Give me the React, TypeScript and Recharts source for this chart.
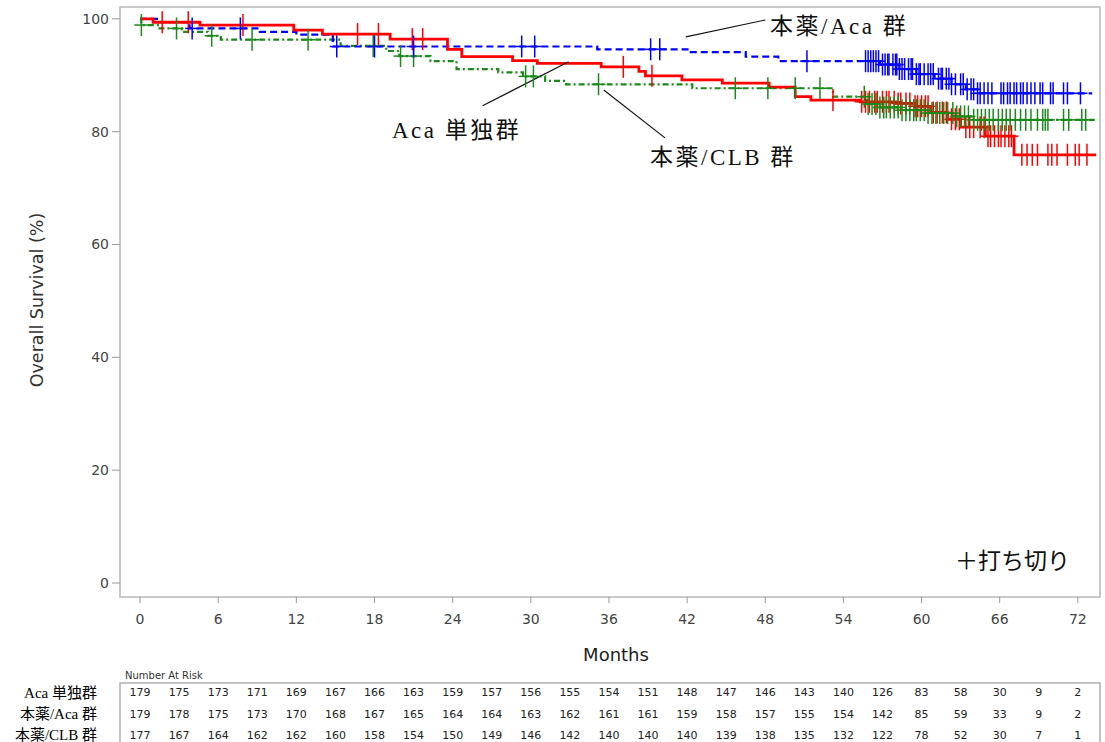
import React from 'react';
import {
  ComposedChart,
  Line,
  Scatter,
  XAxis,
  YAxis,
  ReferenceArea,
  ReferenceLine,
} from 'recharts';

// ---- axes ----
const monthTicks = [0, 6, 12, 18, 24, 30, 36, 42, 48, 54, 60, 66, 72];
const survivalTicks = [0, 20, 40, 60, 80, 100];
const xDomain: [number, number] = [-1.54, 73.7];
const yDomain: [number, number] = [-2.48, 102.1];

// ---- Aca 単独群 (red, solid) ----
const acaTimes = [0, 1.0, 4.6, 11.8, 14.0, 19.2, 23.6, 24.7, 28.6, 30.5, 35.4, 38.3, 38.8, 41.6, 44.7, 48.3, 50.3, 51.5, 55.3, 58.0, 59.5, 60.7, 62.0, 63.0, 64.9, 67.1, 73.4];
const acaSurv = [100, 99.4, 98.9, 98.0, 97.3, 96.4, 94.6, 93.3, 92.6, 92.1, 91.5, 90.7, 89.9, 89.2, 88.6, 87.9, 86.2, 85.6, 85.3, 85.0, 84.5, 83.4, 82.2, 80.8, 79.2, 75.9, 75.9];
const acaCensor = [1.7, 3.7, 7.9, 16.7, 18.3, 20.9, 21.7, 37.1, 39.3, 53.2, 55.4, 55.7, 56.0, 56.4, 56.6, 57.0, 57.3, 57.5, 57.9, 58.2, 58.4, 58.8, 59.1, 59.5, 59.7, 60.0, 60.3, 60.5, 60.9, 61.2, 61.6, 61.9, 62.3, 62.6, 62.9, 63.4, 63.7, 64.0, 64.5, 64.8, 65.1, 65.3, 65.6, 65.9, 66.1, 66.4, 66.7, 66.9, 67.7, 68.1, 68.5, 68.9, 69.7, 70.0, 70.4, 71.2, 71.8, 72.1, 72.7];

// ---- 本薬/Aca 群 (blue, dashed) ----
const comboAcaTimes = [0, 1.5, 3.8, 9.2, 12.0, 14.8, 35.1, 42.2, 46.5, 49.0, 56.8, 58.3, 59.6, 61.0, 62.3, 63.4, 64.3, 73.1];
const comboAcaSurv = [100, 99.4, 98.3, 97.7, 97.2, 95.1, 94.6, 94.1, 93.3, 92.5, 91.9, 91.1, 90.2, 89.4, 88.4, 87.5, 86.8, 86.8];
const comboAcaCensor = [4.0, 7.7, 15.1, 18.0, 21.0, 29.3, 30.3, 39.2, 39.9, 51.2, 55.7, 55.9, 56.1, 56.3, 56.5, 56.7, 57.0, 57.2, 57.4, 57.5, 57.8, 58.0, 58.1, 58.3, 58.5, 58.7, 59.0, 59.2, 59.3, 59.6, 59.8, 59.9, 60.2, 60.5, 60.7, 60.9, 61.3, 61.5, 61.6, 61.9, 62.1, 62.3, 62.6, 63.0, 63.2, 63.5, 63.8, 64.0, 64.3, 64.5, 64.8, 65.1, 65.4, 66.1, 66.3, 66.6, 66.8, 67.1, 67.3, 67.6, 67.8, 68.1, 68.4, 68.7, 69.1, 69.3, 69.9, 70.1, 70.9, 71.2, 72.2];

// ---- 本薬/CLB 群 (green, dash-dot) ----
const comboClbTimes = [0, 0.1, 1.5, 3.2, 5.2, 6.2, 15.4, 18.9, 19.9, 22.3, 24.3, 27.5, 29.4, 31.1, 32.7, 42.4, 53.2, 55.8, 56.8, 58.5, 60.5, 62.5, 64.0, 73.3];
const comboClbSurv = [100, 98.9, 98.3, 97.7, 97.0, 96.3, 95.2, 94.3, 93.4, 92.5, 91.1, 90.5, 89.8, 89.0, 88.4, 87.7, 86.2, 84.9, 84.3, 83.8, 83.3, 82.7, 82.1, 82.1];
const comboClbCensor = [0.1, 2.8, 5.5, 8.6, 12.9, 17.9, 20.0, 21.0, 29.6, 30.2, 35.2, 45.7, 48.2, 50.3, 52.2, 55.6, 55.9, 56.2, 56.5, 56.8, 57.1, 57.3, 57.6, 57.9, 58.2, 58.5, 58.8, 59.1, 59.4, 59.6, 59.9, 60.2, 60.5, 60.8, 61.1, 61.4, 61.7, 62.0, 62.4, 62.7, 63.0, 63.3, 63.6, 64.0, 64.3, 64.6, 64.9, 65.2, 65.5, 65.9, 66.2, 66.5, 66.8, 67.2, 67.6, 68.0, 68.4, 68.9, 69.3, 69.5, 69.7, 70.9, 71.3, 72.3, 72.6];

// ---- number at risk ----
const riskTimes = [0, 3, 6, 9, 12, 15, 18, 21, 24, 27, 30, 33, 36, 39, 42, 45, 48, 51, 54, 57, 60, 63, 66, 69, 72];
const acaRisk = [179, 175, 173, 171, 169, 167, 166, 163, 159, 157, 156, 155, 154, 151, 148, 147, 146, 143, 140, 126, 83, 58, 30, 9, 2];
const comboAcaRisk = [179, 178, 175, 173, 170, 168, 167, 165, 164, 164, 163, 162, 161, 161, 159, 158, 157, 155, 154, 142, 85, 59, 33, 9, 2];
const comboClbRisk = [177, 167, 164, 162, 162, 160, 158, 154, 150, 149, 146, 142, 140, 140, 140, 139, 138, 135, 132, 122, 78, 52, 30, 7, 1];
const groupNames = ['Aca 単独群', '本薬/Aca 群', '本薬/CLB 群'];

const RED = '#ff0000';
const BLUE = '#0000ff';
const GREEN = '#1a8a1a';
const SANS = '"DejaVu Sans", Verdana, sans-serif';
const SERIF = '"Liberation Serif", "Times New Roman", "Noto Sans CJK JP", serif';

const toSteps = (times: number[], surv: number[]) => times.map((t, i) => ({ t, s: surv[i] }));

const survAt = (times: number[], surv: number[], t: number) => {
  let v = surv[0];
  for (let i = 0; i < times.length; i++) if (times[i] <= t) v = surv[i];
  return v;
};

const toCensor = (cens: number[], times: number[], surv: number[]) =>
  cens.map((t) => ({ t, s: survAt(times, surv, t) }));

const plusShape = (color: string) => (props: any) => {
  const { cx, cy } = props;
  if (cx == null || cy == null) return <g />;
  return (
    <g>
      <line x1={cx} x2={cx} y1={cy - 11} y2={cy + 11} stroke={color} strokeWidth={1.5} />
      <line x1={cx - 7} x2={cx + 7} y1={cy} y2={cy} stroke={color} strokeWidth={1.5} />
    </g>
  );
};

const riskRows = [acaRisk, comboAcaRisk, comboClbRisk].map((row, r) =>
  riskTimes.map((t, i) => ({ t, row: r, n: row[i] }))
);

const riskText = (props: any) => {
  const { cx, cy, payload } = props;
  return (
    <text x={cx} y={cy} textAnchor="middle" dominantBaseline="central" fontSize={11} fontFamily={SANS} fill="#222">
      {payload.n}
    </text>
  );
};

const abs = (left: number, top: number, extra: React.CSSProperties = {}): React.CSSProperties => ({
  position: 'absolute',
  left,
  top,
  whiteSpace: 'nowrap',
  lineHeight: 1,
  ...extra,
});

const note = (extra: React.CSSProperties = {}): React.CSSProperties => ({
  fontFamily: SERIF,
  fontSize: 23,
  color: '#111',
  letterSpacing: 2.5,
  ...extra,
});

export default function App() {
  const tickLine = { stroke: '#9a9a9a' };
  return (
    <div style={{ position: 'absolute', left: 0, top: 0, width: 1105, height: 742, overflow: 'hidden', background: '#fff' }}>
      <div style={{ position: 'absolute', left: 0, top: 0 }}>
        <ComposedChart width={1105} height={742} margin={{ top: 7, right: 5, bottom: 115, left: 0 }}>
          <XAxis
            type="number"
            dataKey="t"
            domain={xDomain}
            ticks={monthTicks}
            allowDataOverflow
            height={30}
            tickSize={6}
            tickMargin={11}
            axisLine={false}
            tickLine={tickLine}
            tick={{ fill: '#444', fontSize: 14, fontFamily: SANS }}
          />
          <YAxis
            type="number"
            domain={yDomain}
            ticks={survivalTicks}
            allowDataOverflow
            width={120}
            tickSize={8}
            tickMargin={3}
            axisLine={false}
            tickLine={tickLine}
            tick={{ fill: '#444', fontSize: 14, fontFamily: SANS }}
          />
          <ReferenceArea x1={xDomain[0]} x2={xDomain[1]} y1={yDomain[0]} y2={yDomain[1]} fill="none" stroke="#b8b8b8" strokeWidth={1.5} />
          <Line data={toSteps(comboClbTimes, comboClbSurv)} dataKey="s" type="stepAfter" stroke={GREEN} strokeWidth={2.2} strokeDasharray="6 3 2 3" dot={false} activeDot={false} isAnimationActive={false} />
          <Line data={toSteps(comboAcaTimes, comboAcaSurv)} dataKey="s" type="stepAfter" stroke={BLUE} strokeWidth={2.2} strokeDasharray="7 4" dot={false} activeDot={false} isAnimationActive={false} />
          <Line data={toSteps(acaTimes, acaSurv)} dataKey="s" type="stepAfter" stroke={RED} strokeWidth={2.8} dot={false} activeDot={false} isAnimationActive={false} />
          <Scatter data={toCensor(acaCensor, acaTimes, acaSurv)} dataKey="s" shape={plusShape(RED)} isAnimationActive={false} />
          <Scatter data={toCensor(comboClbCensor, comboClbTimes, comboClbSurv)} dataKey="s" shape={plusShape(GREEN)} isAnimationActive={false} />
          <Scatter data={toCensor(comboAcaCensor, comboAcaTimes, comboAcaSurv)} dataKey="s" shape={plusShape(BLUE)} isAnimationActive={false} />
          <ReferenceLine segment={[{ x: 41.9, y: 96.8 }, { x: 48.0, y: 99.8 }]} stroke="#111" strokeWidth={1.2} ifOverflow="visible" />
          <ReferenceLine segment={[{ x: 26.3, y: 84.6 }, { x: 32.9, y: 92.4 }]} stroke="#111" strokeWidth={1.2} ifOverflow="visible" />
          <ReferenceLine segment={[{ x: 35.6, y: 87.4 }, { x: 40.3, y: 78.9 }]} stroke="#111" strokeWidth={1.2} ifOverflow="visible" />
        </ComposedChart>
      </div>

      {/* number-at-risk table, sharing the month scale of the plot above */}
      <div style={{ position: 'absolute', left: 0, top: 665 }}>
        <ComposedChart width={1105} height={100} margin={{ top: 18, right: 5, bottom: 2, left: 0 }}>
          <XAxis type="number" dataKey="t" domain={xDomain} allowDataOverflow hide />
          <YAxis
            type="number"
            domain={[-0.476, 3.333]}
            reversed
            allowDataOverflow
            ticks={[0, 1, 2]}
            interval={0}
            tickFormatter={(i: number) => groupNames[i]}
            width={120}
            tickSize={0}
            tickMargin={23}
            axisLine={false}
            tickLine={false}
            tick={{ fill: '#000', fontSize: 15, fontFamily: SERIF }}
          />
          <ReferenceArea x1={xDomain[0]} x2={xDomain[1]} y1={-0.476} y2={3.333} fill="none" stroke="#b0b0b0" strokeWidth={1.5} />
          {riskRows.map((rows, r) => (
            <Scatter key={r} data={rows} dataKey="row" shape={riskText} isAnimationActive={false} />
          ))}
        </ComposedChart>
      </div>

      <div style={abs(125, 671, { fontFamily: SANS, fontSize: 10, color: '#333' })}>Number At Risk</div>

      <div
        style={abs(38, 300, {
          fontFamily: SANS,
          fontSize: 17.5,
          color: '#333',
          transform: 'translate(-50%, -50%) rotate(-90deg)',
        })}
      >
        Overall Survival (%)
      </div>
      <div style={abs(616, 655, { fontFamily: SANS, fontSize: 18, color: '#222', transform: 'translate(-50%, -50%)' })}>Months</div>

      <div style={abs(770, 15, note())}>本薬/Aca 群</div>
      <div style={abs(392, 119, note())}>Aca 単独群</div>
      <div style={abs(650, 146, note())}>本薬/CLB 群</div>
      <div style={abs(955, 550, note({ letterSpacing: 0 }))}>＋打ち切り</div>
    </div>
  );
}
